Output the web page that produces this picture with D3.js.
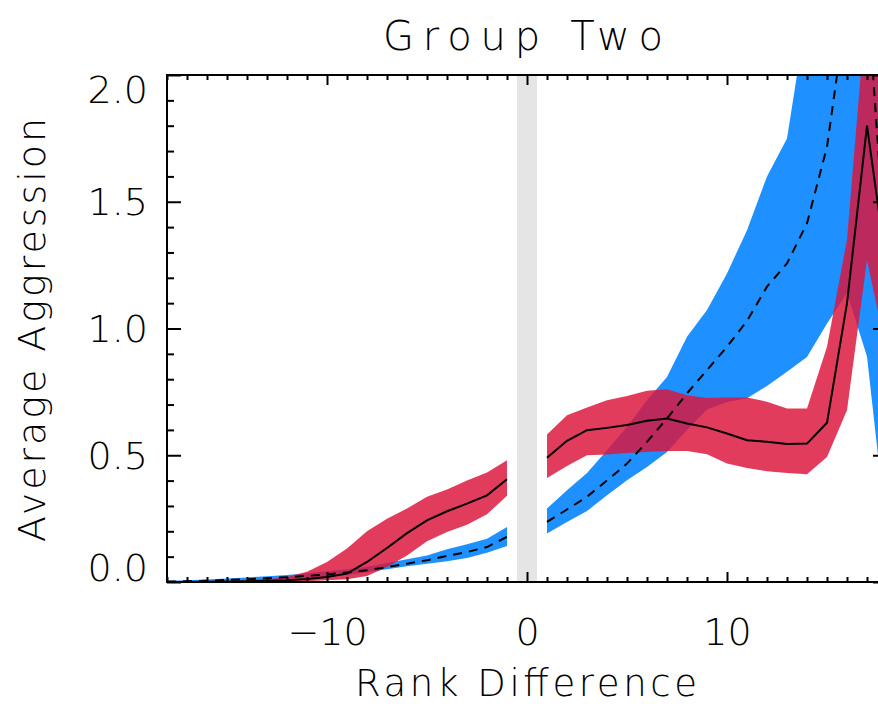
<!DOCTYPE html>
<html>
<head>
<meta charset="utf-8">
<script src="https://cdn.jsdelivr.net/npm/d3@7"></script>
<style>
  body { margin: 0; background: #fff; }
  text { font-family: "DejaVu Sans", sans-serif; font-weight: 200; fill: #000; }
</style>
</head>
<body>
<div id="chart"></div>
<script>
// rank differences (0 is left out, the grey bar sits there)
var rankLeft = [-18, -17, -16, -15, -14, -13, -12, -11, -10, -9, -8, -7, -6, -5, -4, -3, -2, -1];
var rankRight = [1, 2, 3, 4, 5, 6, 7, 8, 9, 10, 11, 12, 13, 14, 15, 16, 17, 18];

// red series (solid line)
var redMeanLeft = [0.0, 0.0, 0.001, 0.002, 0.003, 0.005, 0.007, 0.012, 0.02, 0.033, 0.079, 0.134, 0.193, 0.243, 0.279, 0.309, 0.342, 0.405];
var redHighLeft = [0.0, 0.001, 0.002, 0.004, 0.007, 0.011, 0.02, 0.04, 0.079, 0.132, 0.2, 0.25, 0.29, 0.336, 0.365, 0.4, 0.432, 0.48];
var redLowLeft = [0.0, 0.0, 0.0, 0.0, 0.001, 0.001, 0.002, 0.003, 0.007, 0.011, 0.024, 0.059, 0.105, 0.161, 0.197, 0.226, 0.267, 0.34];
var redMeanRight = [0.49, 0.557, 0.599, 0.608, 0.619, 0.636, 0.645, 0.625, 0.61, 0.586, 0.559, 0.553, 0.544, 0.546, 0.628, 1.1, 1.8, 1.23];
var redHighRight = [0.582, 0.658, 0.688, 0.717, 0.734, 0.754, 0.76, 0.737, 0.726, 0.728, 0.728, 0.711, 0.684, 0.684, 0.928, 1.35, 2.3, 2.2];
var redLowRight = [0.41, 0.458, 0.5, 0.503, 0.509, 0.513, 0.517, 0.517, 0.504, 0.467, 0.45, 0.437, 0.43, 0.425, 0.493, 0.678, 1.27, 0.9];

// blue series (dashed line)
var blueMeanLeft = [0.002, 0.003, 0.005, 0.008, 0.011, 0.015, 0.019, 0.024, 0.03, 0.037, 0.046, 0.059, 0.072, 0.086, 0.103, 0.118, 0.138, 0.178];
var blueHighLeft = [0.005, 0.007, 0.01, 0.014, 0.018, 0.023, 0.028, 0.035, 0.042, 0.05, 0.06, 0.075, 0.09, 0.105, 0.129, 0.149, 0.171, 0.217];
var blueLowLeft = [0.0, 0.001, 0.002, 0.004, 0.006, 0.009, 0.012, 0.017, 0.022, 0.028, 0.038, 0.05, 0.062, 0.072, 0.082, 0.095, 0.115, 0.142];
var blueMeanRight = [0.237, 0.286, 0.336, 0.401, 0.467, 0.553, 0.645, 0.744, 0.836, 0.928, 1.03, 1.165, 1.257, 1.415, 1.717, 2.28, 2.35, 1.2];
var blueHighRight = [0.29, 0.362, 0.43, 0.52, 0.612, 0.717, 0.809, 0.967, 1.073, 1.217, 1.388, 1.6, 1.75, 2.25, 2.6, 2.9, 3.0, 2.8];
var blueLowRight = [0.191, 0.237, 0.28, 0.342, 0.401, 0.454, 0.513, 0.6, 0.68, 0.71, 0.725, 0.773, 0.829, 0.888, 1.02, 1.14, 0.89, 0.18];

var xMajorTicks = [-10, 0, 10];
var yMajorTicks = [0, 0.5, 1.0, 1.5, 2.0];

var titleText = "Group Two",
  xLabel = "Rank Difference",
  yLabel = "Average Aggression";

// set the dimensions and margins of the graph
var width = 878,
  height = 704,
  margin = { top: 75, left: 167 },
  plotW = 720,
  plotH = 507;

var svg = d3
  .select("#chart")
  .append("svg")
  .attr("width", width)
  .attr("height", height);

var g = svg
  .append("g")
  .attr("transform", `translate(${margin.left}, ${margin.top})`);

var x = d3.scaleLinear().domain([-18, 18]).range([0, plotW]);
var y = d3.scaleLinear().domain([0, 2]).range([plotH, 0]);

g.append("clipPath")
  .attr("id", "plot-clip")
  .append("rect")
  .attr("width", plotW)
  .attr("height", plotH);

var plot = g.append("g").attr("clip-path", "url(#plot-clip)");

// grey bar at zero
plot
  .append("rect")
  .attr("x", x(-0.5))
  .attr("width", x(0.5) - x(-0.5))
  .attr("y", 0)
  .attr("height", plotH)
  .attr("fill", "#e5e5e5");

function rows(xs, mean, lo, hi) {
  return xs.map(function (d, i) {
    return { x: d, mean: mean[i], lo: lo[i], hi: hi[i] };
  });
}

var blueParts = [
  rows(rankLeft, blueMeanLeft, blueLowLeft, blueHighLeft),
  rows(rankRight, blueMeanRight, blueLowRight, blueHighRight),
];
var redParts = [
  rows(rankLeft, redMeanLeft, redLowLeft, redHighLeft),
  rows(rankRight, redMeanRight, redLowRight, redHighRight),
];

var band = d3
  .area()
  .x(function (d) { return x(d.x); })
  .y0(function (d) { return y(d.lo); })
  .y1(function (d) { return y(d.hi); });

var line = d3
  .line()
  .x(function (d) { return x(d.x); })
  .y(function (d) { return y(d.mean); });

// bands, blue under red
plot.selectAll(".blue-band")
  .data(blueParts)
  .enter()
  .append("path")
  .attr("d", band)
  .attr("fill", "#1e90ff");

plot.selectAll(".red-band")
  .data(redParts)
  .enter()
  .append("path")
  .attr("d", band)
  .attr("fill", "#dc143c")
  .attr("fill-opacity", 0.83);

// mean lines
plot.selectAll(".blue-line")
  .data(blueParts)
  .enter()
  .append("path")
  .attr("d", line)
  .attr("fill", "none")
  .attr("stroke", "#000")
  .attr("stroke-width", 2)
  .attr("stroke-dasharray", "9,7");

plot.selectAll(".red-line")
  .data(redParts)
  .enter()
  .append("path")
  .attr("d", line)
  .attr("fill", "none")
  .attr("stroke", "#000")
  .attr("stroke-width", 2);

// axes: ticks point inward, minor ones shorter
var minorX = d3.range(-18, 19).filter(function (v) { return xMajorTicks.indexOf(v) < 0; });
var minorY = d3.range(0, 21).map(function (v) { return v / 10; })
  .filter(function (v) { return yMajorTicks.indexOf(v) < 0; });

function addAxis(axis, ticks, size, transform, labels) {
  var a = g.append("g")
    .attr("transform", transform)
    .call(axis.tickValues(ticks).tickSize(-size).tickSizeOuter(0));
  a.select(".domain").remove();
  a.selectAll("line").attr("stroke", "#000").attr("stroke-width", 2);
  if (!labels) a.selectAll("text").remove();
  return a;
}

addAxis(d3.axisBottom(x), minorX, 5, `translate(0, ${plotH})`);
addAxis(d3.axisTop(x), minorX, 5, "translate(0, 0)");
addAxis(d3.axisLeft(y), minorY, 7, "translate(0, 0)");
addAxis(d3.axisRight(y), minorY, 7, `translate(${plotW}, 0)`);
addAxis(d3.axisTop(x), xMajorTicks, 10, "translate(0, 0)");
addAxis(d3.axisRight(y), yMajorTicks, 14, `translate(${plotW}, 0)`);

var bottomAxis = addAxis(
  d3.axisBottom(x).tickFormat(d3.format("d")).tickPadding(36),
  xMajorTicks, 10, `translate(0, ${plotH})`, true
);
bottomAxis.selectAll("text").attr("font-size", 38);

var leftAxis = addAxis(
  d3.axisLeft(y).tickFormat(d3.format(".1f")).tickPadding(19),
  yMajorTicks, 14, "translate(0, 0)", true
);
// end labels sit inside the axis range, like the original plot
leftAxis.selectAll("text")
  .attr("font-size", 38)
  .attr("dy", function (d) {
    if (d === 2) return "0.72em";
    if (d === 0) return "-0.05em";
    return "0.34em";
  });

// frame
g.append("rect")
  .attr("width", plotW)
  .attr("height", plotH)
  .attr("fill", "none")
  .attr("stroke", "#000")
  .attr("stroke-width", 2);

// titles
svg.append("text")
  .attr("x", 523)
  .attr("y", 50)
  .attr("text-anchor", "middle")
  .attr("font-size", 40)
  .attr("textLength", 280)
  .attr("lengthAdjust", "spacing")
  .text(titleText);

svg.append("text")
  .attr("x", 526)
  .attr("y", 696)
  .attr("text-anchor", "middle")
  .attr("font-size", 37)
  .attr("textLength", 342)
  .attr("lengthAdjust", "spacing")
  .text(xLabel);

svg.append("text")
  .attr("transform", "translate(45, 330) rotate(-90)")
  .attr("text-anchor", "middle")
  .attr("font-size", 38)
  .attr("textLength", 424)
  .attr("lengthAdjust", "spacing")
  .text(yLabel);
</script>
</body>
</html>
